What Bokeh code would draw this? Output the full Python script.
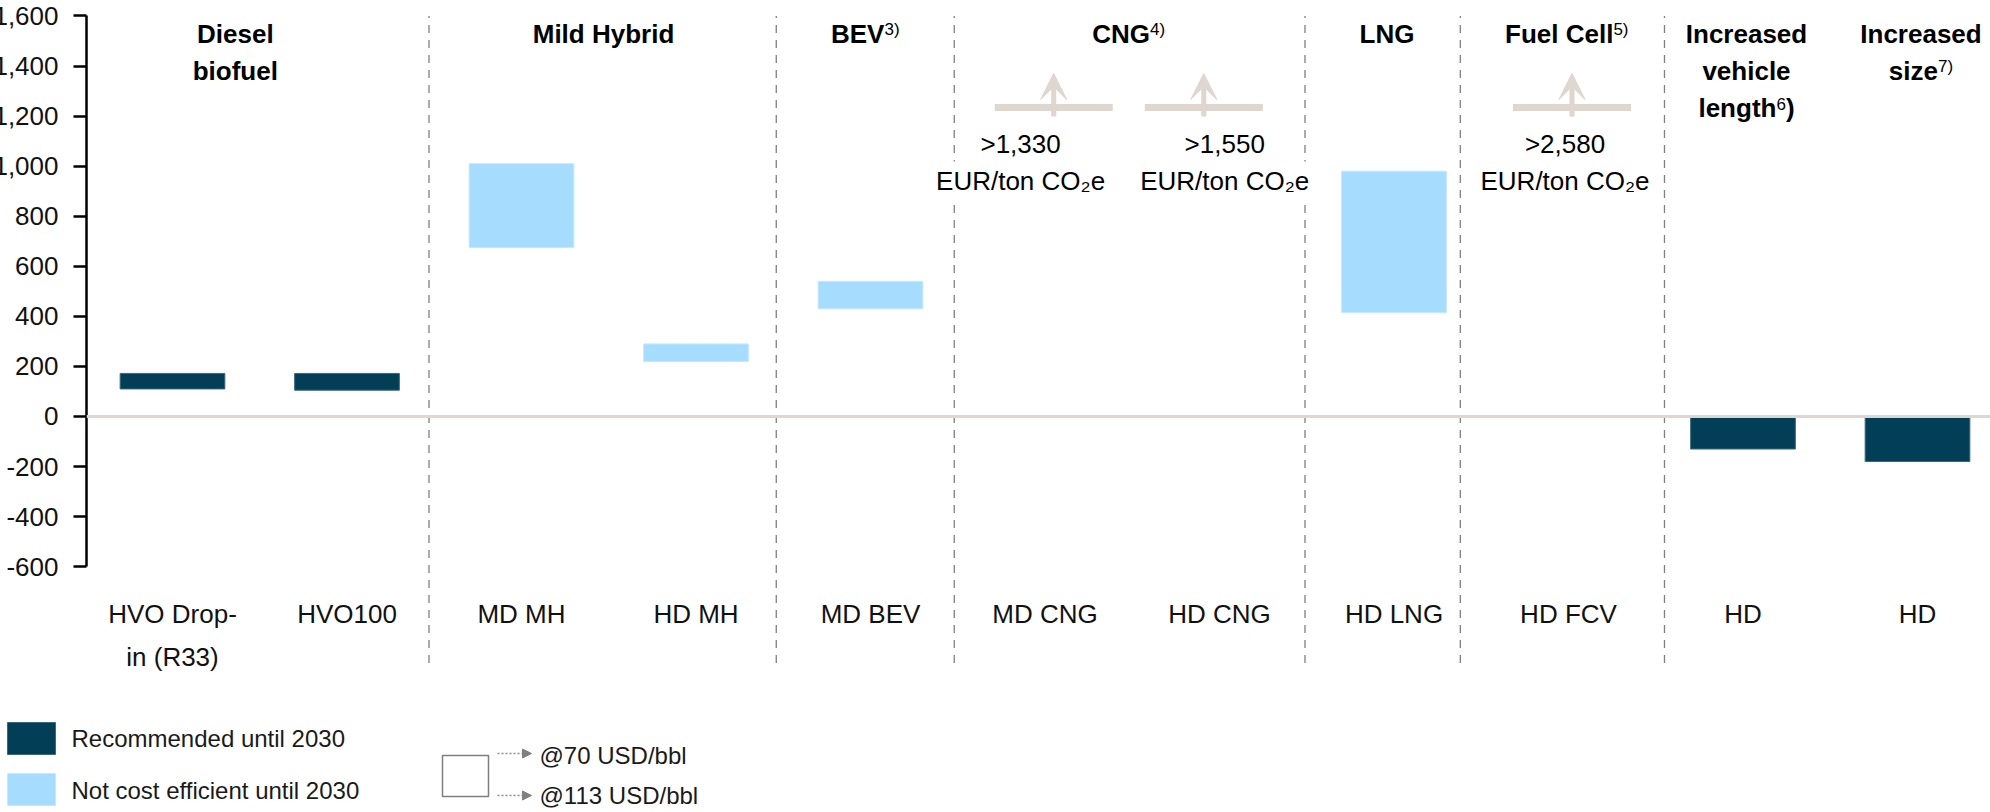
import numpy as np
from bokeh.plotting import figure
from bokeh.layouts import column
from bokeh.models import (Range1d, FixedTicker, NumeralTickFormatter, Span, ColumnDataSource,
                          Arrow, VeeHead, NormalHead)
from bokeh.core.properties import value
from bokeh.embed import file_html
from bokeh.resources import INLINE

# ---------------- data ----------------
categories = ["HVO Drop-\nin (R33)", "HVO100", "MD MH", "HD MH", "MD BEV",
              "MD CNG", "HD CNG", "HD LNG", "HD FCV", "HD", "HD"]
cost_low = [110, 105, 675, 220, 430, None, None, 415, None, -130, -180]
cost_high = [172, 172, 1010, 290, 540, None, None, 980, None, 0, 0]
recommended = [True, True, False, False, False, None, None, False, None, True, True]
off_scale_cat = ["MD CNG", "HD CNG", "HD FCV"]
off_scale_text = [">1,330", ">1,550", ">2,580"]
unit_text = "EUR/ton CO\u2082e"
groups = ["Diesel\nbiofuel", "Mild Hybrid", "BEV\u00b3\u207e", "CNG\u2074\u207e", "LNG",
          "Fuel Cell\u2075\u207e", "Increased\nvehicle\nlength\u2076)", "Increased\nsize\u2077\u207e"]
group_size = [2, 2, 1, 2, 1, 1, 1, 1]
y_ticks = [-600, -400, -200, 0, 200, 400, 600, 800, 1000, 1200, 1400, 1600]
legend_labels = ["Recommended until 2030", "Not cost efficient until 2030"]
oil_labels = ["@70 USD/bbl", "@113 USD/bbl"]

# ---------------- style / layout ----------------
DARK = "#023F56"
DARK_EDGE = "#3A687C"
LIGHT = "#A6DCFE"
LIGHT_EDGE = "#C4E8FF"
BEIGE = "#DED6CF"
GRID = "#7F7F7F"
TXT = "#111111"
FONT = "Liberation Sans"
header_nudge = [-0.14, -0.03, -0.03, -0.02, -0.04, -0.01, 0.02, 0.02]
divider_nudge = [-0.03, -0.04, -0.02, -0.01, -0.12, 0.05, 0.0]
has_divider = [True, True, True, True, True, True, False]
arrow_nudge = [0.05, -0.09, 0.02]
label_nudge = [-0.14, 0.03, -0.02]
H_MAIN, H_LEG = 706, 106
SHIFT = -12
W = 1990 - SHIFT

# superscript handling (approx. Arial metrics, 1/1000 em)
SUP = {"\u00b3": "3", "\u2074": "4", "\u2075": "5", "\u2076": "6", "\u2077": "7", "\u207e": ")"}
BOLD_W = {"B": 722, "E": 667, "V": 667, "C": 722, "N": 722, "G": 778, "F": 611, "u": 611,
          "e": 556, "l": 278, " ": 278, "n": 611, "g": 611, "t": 333, "h": 611, "s": 556,
          "i": 278, "z": 500, ")": 333}
REG_W = {"3": 556, "4": 556, "5": 556, "6": 556, "7": 556, ")": 333}
HEAD_PX, SUP_PX = 26, 17

# ================= main chart =================
p = figure(width=W, height=H_MAIN, output_backend="svg", toolbar_location=None,
           x_range=Range1d(-0.4928, 10.4183), y_range=Range1d(-1158.6, 1661.9),
           x_axis_location=None, y_axis_location="left",
           min_border_left=98, min_border_right=0, min_border_top=0, min_border_bottom=0,
           outline_line_color=None, background_fill_color="white")
p.frame_align = False
p.extra_x_ranges = {"px": Range1d(86, 1990)}
p.extra_y_ranges = {"px": Range1d(H_MAIN, 0)}
p.grid.visible = False

ax = p.yaxis[0]
ax.ticker = FixedTicker(ticks=y_ticks)
ax.formatter = NumeralTickFormatter(format="0,0")
ax.bounds = (min(y_ticks), max(y_ticks))
ax.axis_line_width = 2.5
ax.axis_line_color = "#000000"
ax.major_tick_line_width = 2.5
ax.major_tick_line_color = "#000000"
ax.major_tick_out = 13
ax.major_tick_in = 0
ax.minor_tick_line_color = None
ax.major_label_standoff = 15
ax.major_label_text_font = FONT
ax.major_label_text_font_size = "26px"
ax.major_label_text_color = TXT

# bars
rec = dict(x=[], bottom=[], top=[])
nrec = dict(x=[], bottom=[], top=[])
for i, (lo, hi, r) in enumerate(zip(cost_low, cost_high, recommended)):
    if lo is None:
        continue
    d = rec if r else nrec
    d["x"].append(i)
    d["bottom"].append(lo)
    d["top"].append(hi)
p.vbar(x="x", width=0.6, bottom="bottom", top="top", source=ColumnDataSource(rec),
       fill_color=DARK, line_color=DARK_EDGE, line_width=1)
p.vbar(x="x", width=0.6, bottom="bottom", top="top", source=ColumnDataSource(nrec),
       fill_color=LIGHT, line_color=LIGHT_EDGE, line_width=1)

p.add_layout(Span(location=0, dimension="width", line_color=BEIGE, line_width=3))

# group dividers
bounds = np.cumsum(group_size)[:-1] - 0.5 + np.array(divider_nudge)
div_x = [b for b, h in zip(bounds, has_divider) if h]
p.segment(x0=div_x, x1=div_x, y0=-985, y1=1600, line_color=GRID, line_width=1.3, line_dash="8 7")

# group headers (with superscripts as separate smaller runs)
starts = np.concatenate([[0], np.cumsum(group_size)[:-1]])
centers = starts + (np.array(group_size) - 1) / 2 + np.array(header_nudge)
plain = dict(x=[], y=[], t=[])
base_runs = dict(x=[], y=[], t=[], xo=[])
sup_runs = dict(x=[], y=[], t=[], xo=[])
for g, cx in zip(groups, centers):
    for k, line in enumerate(g.split("\n")):
        ly = 33 + 37 * k
        if not any(c in SUP for c in line):
            plain["x"].append(cx); plain["y"].append(ly); plain["t"].append(line)
            continue
        runs = []
        for c in line:
            s = c in SUP
            ch = SUP.get(c, c)
            if runs and runs[-1][1] == s:
                runs[-1][0] += ch
            else:
                runs.append([ch, s])
        widths = [sum((REG_W if s else BOLD_W)[c] for c in t) * (SUP_PX if s else HEAD_PX) / 1000
                  for t, s in runs]
        off = -sum(widths) / 2
        for (t, s), w in zip(runs, widths):
            d = sup_runs if s else base_runs
            d["x"].append(cx); d["y"].append(ly - 4 if s else ly); d["t"].append(t); d["xo"].append(off)
            off += w
p.text(x="x", y="y", text="t", source=ColumnDataSource(plain), y_range_name="px",
       text_font=value(FONT), text_font_style="bold", text_font_size=f"{HEAD_PX}px",
       text_align="center", text_baseline="middle", text_color="#000000")
p.text(x="x", y="y", text="t", x_offset="xo", source=ColumnDataSource(base_runs), y_range_name="px",
       text_font=value(FONT), text_font_style="bold", text_font_size=f"{HEAD_PX}px",
       text_align="left", text_baseline="middle", text_color="#000000")
p.text(x="x", y="y", text="t", x_offset="xo", source=ColumnDataSource(sup_runs), y_range_name="px",
       text_font=value(FONT), text_font_size=f"{SUP_PX}px",
       text_align="left", text_baseline="middle", text_color="#000000")

# category labels
cx_, cy_, ct_ = [], [], []
for i, c in enumerate(categories):
    for k, line in enumerate(c.split("\n")):
        cx_.append(i); cy_.append(613 + 43 * k); ct_.append(line)
p.text(x="x", y="y", text="t", source=ColumnDataSource(dict(x=cx_, y=cy_, t=ct_)), y_range_name="px",
       text_font=value(FONT), text_font_size="26px",
       text_align="center", text_baseline="middle", text_color=TXT)

# off-scale indications
ai = np.array([categories.index(c) for c in off_scale_cat], dtype=float)
arx = ai + np.array(arrow_nudge)
p.rect(x=arx, y=107, width=0.676, height=7, height_units="screen", y_range_name="px",
       fill_color=BEIGE, line_color=None)
asrc = ColumnDataSource(dict(x=arx, ys=[116] * len(arx), ye=[73] * len(arx)))
p.add_layout(Arrow(end=VeeHead(size=26, fill_color=BEIGE, line_color=BEIGE),
                   source=asrc, x_start="x", y_start="ys", x_end="x", y_end="ye",
                   line_color=BEIGE, line_width=5, y_range_name="px"))
lx = ai + np.array(label_nudge)
tx, ty, tt = [], [], []
for x, t in zip(lx, off_scale_text):
    tx += [x, x]; ty += [143, 180]; tt += [t, unit_text]
p.text(x="x", y="y", text="t", source=ColumnDataSource(dict(x=tx, y=ty, t=tt)), y_range_name="px",
       text_font=value(FONT), text_font_size="26px", text_align="center", text_baseline="middle",
       text_color="#000000", background_fill_color="white", padding=4)

# ================= legend strip =================
q = figure(width=W, height=H_LEG, output_backend="svg", toolbar_location=None,
           x_range=Range1d(SHIFT, 1990), y_range=Range1d(812, H_MAIN),
           x_axis_location=None, y_axis_location=None,
           min_border_left=0, min_border_right=0, min_border_top=0, min_border_bottom=0,
           outline_line_color=None, background_fill_color="white")
q.frame_align = False
q.grid.visible = False

q.rect(x=[31, 31], y=[738, 789], width=48, height=32,
       fill_color=[DARK, LIGHT], line_color=[DARK_EDGE, LIGHT_EDGE], line_width=1)
q.text(x=[71, 71], y=[738, 790], text=legend_labels, text_font=value(FONT), text_font_size="24px",
       text_align="left", text_baseline="middle", text_color="#1a1a1a")

q.rect(x=465, y=775.5, width=46, height=41, fill_color=None, line_color="#7F7F7F", line_width=1.5)
osrc = ColumnDataSource(dict(xs=[497, 497], xe=[531, 531], y=[753, 795]))
q.add_layout(Arrow(end=NormalHead(size=9, fill_color="#808080", line_color="#808080"),
                   source=osrc, x_start="xs", y_start="y", x_end="xe", y_end="y",
                   line_color="#8C8C8C", line_width=1.5, line_dash="2 2"))
q.text(x=[539, 539], y=[755, 795], text=oil_labels,
       text_font=value(FONT), text_font_size="24px", text_align="left", text_baseline="middle",
       text_color="#1a1a1a")

layout = column(p, q, spacing=0, margin=(0, 0, 0, SHIFT))
open("out.html", "w").write(file_html(layout, INLINE))
